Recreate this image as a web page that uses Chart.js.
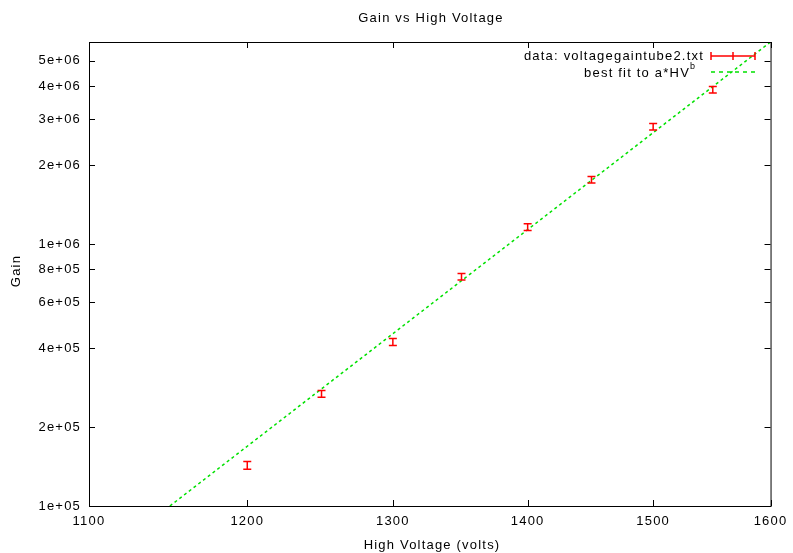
<!DOCTYPE html>
<html>
<head>
<meta charset="utf-8">
<script src="https://cdn.jsdelivr.net/npm/chart.js@4"></script>
<style>
  body { margin: 0; background: #fff; }
  canvas { display: block; }
</style>
</head>
<body>
<canvas id="chart" width="793" height="553"></canvas>
<script>
// measured gain per high voltage setting
const voltages = [1200, 1250, 1300, 1350, 1400, 1450, 1500, 1550];
const gains = [1.43e5, 2.68e5, 4.23e5, 7.5e5, 1.16e6, 1.76e6, 2.8e6, 3.88e6];
const gainErrors = [5e3, 8e3, 1.3e4, 2.2e4, 3.5e4, 5e4, 8e4, 1.1e5];

// best fit a*HV^b, a straight line on log-log axes
const fitVoltages = [1150, 1600];
const fitGains = [1.0e5, 5.9e6];

const xTicks = [1100, 1200, 1300, 1400, 1500, 1600];
const yTicks = [1e5, 2e5, 4e5, 6e5, 8e5, 1e6, 2e6, 3e6, 4e6, 5e6];
const yTickLabels = ['1e+05', '2e+05', '4e+05', '6e+05', '8e+05', '1e+06', '2e+06', '3e+06', '4e+06', '5e+06'];

const FAMILY = '"Liberation Sans", Arial, sans-serif';
const FONT = '13px ' + FAMILY;
const SPACING = '1.2px';
const RED = 'rgb(255,0,0)';
const GREEN = 'rgb(0,225,0)';

const errorBars = {
  id: 'errorBars',
  beforeDraw(chart) {
    // gnuplot's png font is set wide, so space the letters out a bit
    chart.ctx.letterSpacing = SPACING;
  },
  afterDatasetsDraw(chart) {
    const { ctx, scales: { x, y } } = chart;
    ctx.save();
    ctx.strokeStyle = RED;
    ctx.lineWidth = 1.5;
    voltages.forEach((v, i) => {
      const px = x.getPixelForValue(v);
      const top = y.getPixelForValue(gains[i] + gainErrors[i]);
      const bottom = y.getPixelForValue(gains[i] - gainErrors[i]);
      ctx.beginPath();
      ctx.moveTo(px, top); ctx.lineTo(px, bottom);
      ctx.moveTo(px - 4, top); ctx.lineTo(px + 4, top);
      ctx.moveTo(px - 4, bottom); ctx.lineTo(px + 4, bottom);
      ctx.stroke();
    });
    ctx.restore();
  }
};

// gnuplot style frame: box with inward ticks on all four sides, titles, legend
const frame = {
  id: 'frame',
  afterDraw(chart) {
    const { ctx, chartArea: a, scales: { x, y } } = chart;
    ctx.save();
    ctx.letterSpacing = SPACING;
    ctx.strokeStyle = '#000';
    ctx.lineWidth = 1;
    ctx.strokeRect(a.left + 0.5, a.top + 0.5, a.right - a.left, a.bottom - a.top);
    ctx.beginPath();
    xTicks.forEach(v => {
      const px = Math.round(x.getPixelForValue(v)) + 0.5;
      ctx.moveTo(px, a.bottom); ctx.lineTo(px, a.bottom - 6);
      ctx.moveTo(px, a.top); ctx.lineTo(px, a.top + 6);
    });
    yTicks.forEach(v => {
      const py = Math.round(y.getPixelForValue(v)) + 0.5;
      ctx.moveTo(a.left, py); ctx.lineTo(a.left + 6, py);
      ctx.moveTo(a.right, py); ctx.lineTo(a.right - 6, py);
    });
    ctx.stroke();

    ctx.fillStyle = '#000';
    ctx.font = FONT;
    ctx.textAlign = 'center';
    ctx.textBaseline = 'middle';
    ctx.fillText('Gain vs High Voltage', 431, 18);
    ctx.fillText('High Voltage (volts)', 432, 545);
    ctx.save();
    ctx.translate(16, 271);
    ctx.rotate(-Math.PI / 2);
    ctx.fillText('Gain', 0, 0);
    ctx.restore();

    // legend
    ctx.textAlign = 'right';
    ctx.fillText('data: voltagegaintube2.txt', 704, 56);
    ctx.fillText('best fit to a*HV', 690, 73);
    ctx.textAlign = 'left';
    ctx.font = '9px ' + FAMILY;
    ctx.fillText('b', 690, 67);

    ctx.strokeStyle = RED;
    ctx.lineWidth = 1.5;
    ctx.beginPath();
    ctx.moveTo(711, 56); ctx.lineTo(755, 56);
    [711, 733, 755].forEach(px => { ctx.moveTo(px, 52); ctx.lineTo(px, 60); });
    ctx.stroke();

    ctx.strokeStyle = GREEN;
    ctx.setLineDash([4, 4]);
    ctx.beginPath();
    ctx.moveTo(711, 72); ctx.lineTo(755, 72);
    ctx.stroke();
    ctx.restore();
  }
};

new Chart(document.getElementById('chart'), {
  type: 'scatter',
  data: {
    datasets: [
      {
        label: 'data: voltagegaintube2.txt',
        data: voltages.map((v, i) => ({ x: v, y: gains[i] })),
        pointRadius: 0,
        showLine: false
      },
      {
        label: 'best fit to a*HV^b',
        data: fitVoltages.map((v, i) => ({ x: v, y: fitGains[i] })),
        showLine: true,
        borderColor: GREEN,
        borderWidth: 1.5,
        borderDash: [3, 3],
        pointRadius: 0
      }
    ]
  },
  options: {
    responsive: false,
    animation: false,
    layout: { padding: { top: 42, right: 21, left: 0, bottom: 0 } },
    plugins: {
      legend: { display: false },
      title: { display: false },
      tooltip: { enabled: false }
    },
    scales: {
      x: {
        type: 'logarithmic',
        min: 1100,
        max: 1600,
        afterBuildTicks: s => { s.ticks = xTicks.map(v => ({ value: v })); },
        afterFit: s => { s.height = 47; },
        grid: { display: false, drawTicks: false },
        border: { display: false },
        ticks: {
          color: '#000',
          font: { family: FAMILY, size: 13 },
          padding: 8,
          maxRotation: 0,
          autoSkip: false,
          callback: v => String(v)
        }
      },
      y: {
        type: 'logarithmic',
        min: 1e5,
        max: 5.9e6,
        afterBuildTicks: s => { s.ticks = yTicks.map(v => ({ value: v })); },
        afterFit: s => { s.width = 89; },
        grid: { display: false, drawTicks: false },
        border: { display: false },
        ticks: {
          color: '#000',
          font: { family: FAMILY, size: 13 },
          padding: 8,
          autoSkip: false,
          callback: v => yTickLabels[yTicks.indexOf(v)]
        }
      }
    }
  },
  plugins: [errorBars, frame]
});
</script>
</body>
</html>
